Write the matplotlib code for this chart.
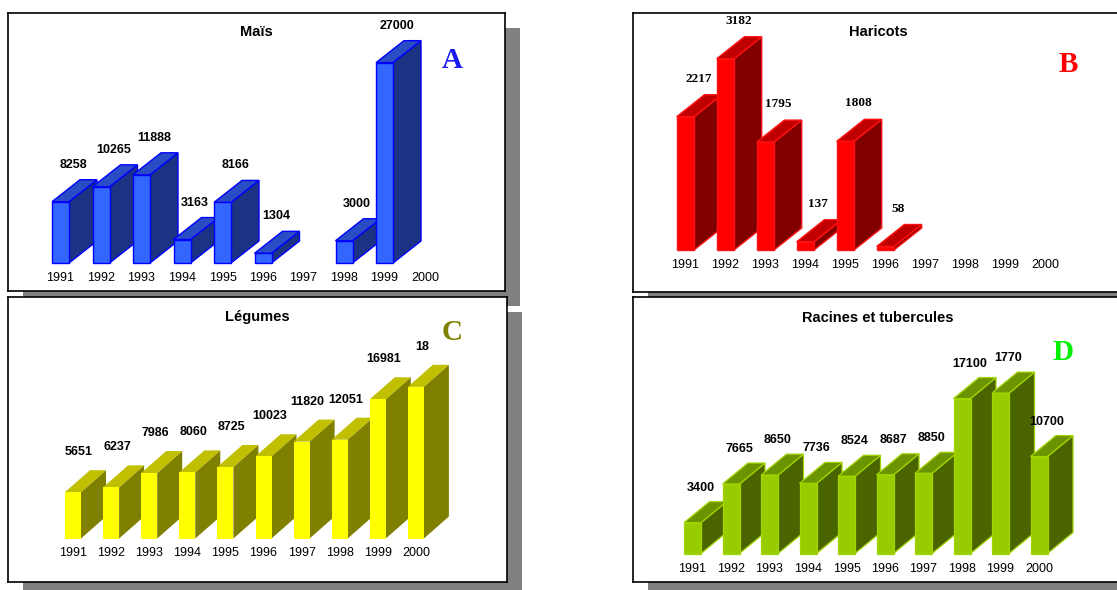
import numpy as np
import matplotlib.pyplot as plt
from matplotlib.patches import Rectangle, Polygon

# data
years = ['1991', '1992', '1993', '1994', '1995', '1996', '1997', '1998', '1999', '2000']

mais = [8258, 10265, 11888, 3163, 8166, 1304, np.nan, 3000, 27000, np.nan]
mais_labels = ['8258', '10265', '11888', '3163', '8166', '1304', '', '3000', '27000', '']

haricots = [2217, 3182, 1795, 137, 1808, 58, np.nan, np.nan, np.nan, np.nan]
haricots_labels = ['2217', '3182', '1795', '137', '1808', '58', '', '', '', '']

legumes = [5651, 6237, 7986, 8060, 8725, 10023, 11820, 12051, 16981, 18500]
legumes_labels = ['5651', '6237', '7986', '8060', '8725', '10023', '11820', '12051', '16981', '18']

racines = [3400, 7665, 8650, 7736, 8524, 8687, 8850, 17100, 17700, 10700]
racines_labels = ['3400', '7665', '8650', '7736', '8524', '8687', '8850', '17100', '1770', '10700']

W, H = 1117, 590
PX = 0.72  # points per pixel at 100 dpi

fig = plt.figure(figsize=(W / 100, H / 100), dpi=100)
fig.patch.set_facecolor('white')

# background layer for the drop shadows
bg = fig.add_axes([0, 0, 1, 1], zorder=0)
bg.set_xlim(0, W)
bg.set_ylim(H, 0)
bg.axis('off')

panels = [
    dict(title='Maïs', letter='A', letter_color='#1a1aee', values=mais, labels=mais_labels,
         box=(7.5, 13.3, 505, 290.7), first=52, sp=40.5, w=17, dx=28, dy=22, base=263, scale=0.00742,
         front='#3366ff', top='#2a4cc4', side='#1c3282', edge='#0000ff', lw=1.0, serif=False,
         lab_off=(13, 15), title_xy=(256, 32), letter_xy=(452, 61)),
    dict(title='Haricots', letter='B', letter_color='#ff0000', values=haricots, labels=haricots_labels,
         box=(633.3, 13.3, 1135, 291.7), first=676.7, sp=40, w=17.3, dx=27.7, dy=22, base=250, scale=0.0601,
         front='#ff0000', top='#c00000', side='#800000', edge='#ff1010', lw=1.0, serif=True,
         lab_off=(13, 16), title_xy=(878, 32), letter_xy=(1068, 65)),
    dict(title='Légumes', letter='C', letter_color='#808000', values=legumes, labels=legumes_labels,
         box=(7.5, 296.7, 506.7, 581.7), first=65, sp=38.1, w=16, dx=25, dy=22, base=538.5, scale=0.0082,
         front='#ffff00', top='#c0c000', side='#808000', edge='none', lw=0, serif=False,
         lab_off=(6, 18), title_xy=(257, 317.5), letter_xy=(452, 333)),
    dict(title='Racines et tubercules', letter='D', letter_color='#00ee00', values=racines, labels=racines_labels,
         box=(633.3, 296.7, 1135, 581.7), first=684, sp=38.5, w=17, dx=25.5, dy=21, base=553.5, scale=0.00906,
         front='#99cc00', top='#6b9400', side='#4a6400', edge='#a2d400', lw=0.9, serif=False,
         lab_off=(8, 14), title_xy=(878, 317.5), letter_xy=(1063, 352)),
]

# shadows first so that every panel box sits on top of them
for p in panels:
    x0, y0, x1, y1 = p['box']
    bg.add_patch(Rectangle((x0 + 15, y0 + 15), x1 - x0, y1 - y0, facecolor='#808080', edgecolor='none'))

for p in panels:
    x0, y0, x1, y1 = p['box']
    ax = fig.add_axes([x0 / W, 1 - y1 / H, (x1 - x0) / W, (y1 - y0) / H], zorder=1)
    ax.set_facecolor('white')
    for s in ax.spines.values():
        s.set_color('black')
        s.set_linewidth(1.2)
    ax.set_xticks([])
    ax.set_yticks([])

    sp, scale = p['sp'], p['scale']
    c0 = p['first'] + p['w'] / 2
    ax.set_xlim((x0 - c0) / sp, (x1 - c0) / sp)
    ax.set_ylim((p['base'] - y1) / scale, (p['base'] - y0) / scale)

    hw = p['w'] / 2 / sp
    ddx = p['dx'] / sp
    ddy = p['dy'] / scale
    kw = dict(edgecolor=p['edge'], linewidth=p['lw'], joinstyle='miter')

    for i, v in enumerate(p['values']):
        if np.isnan(v):
            continue
        xl, xr = i - hw, i + hw
        z = 3 + i
        ax.add_patch(Polygon([(xr, 0), (xr + ddx, ddy), (xr + ddx, v + ddy), (xr, v)],
                             facecolor=p['side'], zorder=z, **kw))
        ax.add_patch(Polygon([(xl, v), (xl + ddx, v + ddy), (xr + ddx, v + ddy), (xr, v)],
                             facecolor=p['top'], zorder=z, **kw))
        ax.add_patch(Rectangle((xl, 0), 2 * hw, v, facecolor=p['front'], zorder=z, **kw))

    fam = 'Liberation Serif' if p['serif'] else 'Liberation Sans'
    fs = 9.5 if p['serif'] else 9
    for i, v in enumerate(p['values']):
        if np.isnan(v):
            continue
        ax.annotate(p['labels'][i], xy=(i, v + ddy),
                    xytext=(p['lab_off'][0] * PX, p['lab_off'][1] * PX), textcoords='offset points',
                    ha='center', va='center', fontsize=fs, fontweight='bold', family=fam,
                    color='black', zorder=20, annotation_clip=False)

    for i, yr in enumerate(years):
        ax.annotate(yr, xy=(i, 0), xytext=(0, -15 * PX), textcoords='offset points',
                    ha='center', va='center', fontsize=9, family='Liberation Sans',
                    color='black', zorder=20, annotation_clip=False)

    ax.text(p['title_xy'][0] / W, 1 - p['title_xy'][1] / H, p['title'], transform=fig.transFigure,
            ha='center', va='center', fontsize=10.5, fontweight='bold', family='Liberation Sans',
            color='black', zorder=20)
    ax.text(p['letter_xy'][0] / W, 1 - p['letter_xy'][1] / H, p['letter'], transform=fig.transFigure,
            ha='center', va='center', fontsize=21, fontweight='bold', family='Liberation Serif',
            color=p['letter_color'], zorder=20)

fig.savefig('out.png', dpi=100, facecolor='white')
